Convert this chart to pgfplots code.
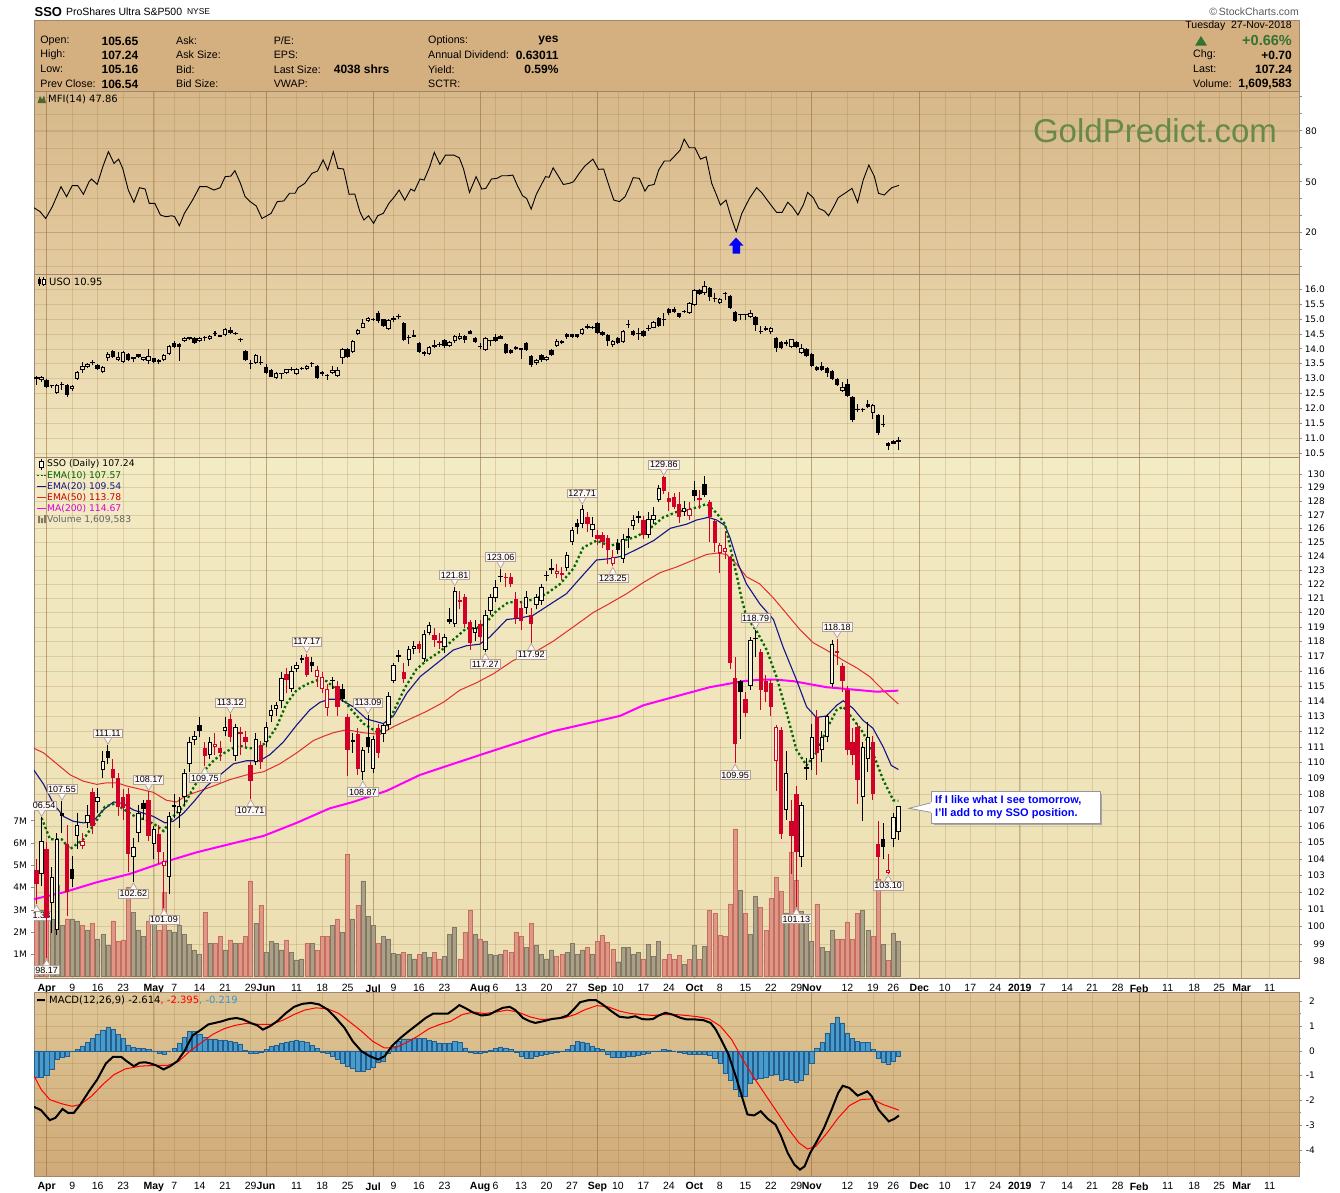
\documentclass[border=0pt]{standalone}
\usepackage{fontspec}
\setmainfont{Liberation Sans}
\newfontfamily\dv{DejaVu Sans}
\usepackage{pgfplots}
\pgfplotsset{compat=1.18}
\usepackage{pgfplotstable}

\definecolor{candred}{RGB}{208,0,40}
\definecolor{bord}{RGB}{160,135,115}
\definecolor{gridc}{RGB}{140,100,50}
\definecolor{hollowin}{RGB}{250,246,222}
\definecolor{hollowuso}{RGB}{236,222,180}
\definecolor{ema10}{RGB}{0,105,0}
\definecolor{ema20}{RGB}{20,20,140}
\definecolor{ema50}{RGB}{225,45,45}
\definecolor{ma200}{RGB}{255,0,255}
\definecolor{volred}{RGB}{222,150,135}
\definecolor{volredd}{RGB}{195,110,95}
\definecolor{volgry}{RGB}{170,160,136}
\definecolor{volgryd}{RGB}{130,120,100}
\definecolor{histf}{RGB}{74,155,205}
\definecolor{histd}{RGB}{35,95,140}
\definecolor{hdrbg}{RGB}{212,175,127}
\definecolor{gpgreen}{RGB}{104,138,72}
\definecolor{upgreen}{RGB}{50,115,50}
\definecolor{macdblue}{RGB}{60,150,210}
\definecolor{mfitop}{RGB}{214,184,138}
\definecolor{mfibot}{RGB}{227,202,158}
\definecolor{usotop}{RGB}{228,205,161}
\definecolor{usobot}{RGB}{241,231,192}
\definecolor{ssotop}{RGB}{243,235,196}
\definecolor{ssomid}{RGB}{250,248,218}
\definecolor{ssobot}{RGB}{236,222,178}
\definecolor{macdtop}{RGB}{223,198,150}
\definecolor{macdbot}{RGB}{207,170,120}
\definecolor{lineblue}{RGB}{105,115,135}
\definecolor{mfiicon}{RGB}{80,100,50}
\definecolor{lblbord}{RGB}{178,160,150}
\definecolor{lblfill}{RGB}{253,248,246}
\definecolor{annbord}{RGB}{150,150,150}
\definecolor{scgrey}{RGB}{90,90,90}
\definecolor{txgreen}{RGB}{0,100,0}
\definecolor{txred}{RGB}{200,0,0}
\definecolor{txmag}{RGB}{215,0,215}
\definecolor{txgrey}{RGB}{100,100,100}

% ---------------- SSO daily candles: index, open, high, low, close, red flag, volume (M)
\pgfplotstableread{
i o h l c r v
-2 103.3 104.0 101.33 102.5 1 2.9
-1 103.1 106.54 102.4 105.1 0 3.0
0 104.6 105.0 98.17 100.5 1 3.6
1 101.4 103.5 99.6 102.9 0 2.6
2 99.8 105.6 99.5 105.2 0 4.1
3 106.8 107.55 105.6 106.6 0 2.3
4 104.9 106.1 100.6 102.0 1 2.6
5 103.4 104.2 102.3 102.8 0 2.6
6 105.4 106.8 104.6 106.1 0 2.5
7 104.8 105.6 104.6 105.1 1 2.3
8 106.2 107.3 105.9 106.7 0 2.1
9 108.1 108.4 105.5 106.0 1 2.4
10 107.5 108.4 106.8 107.8 0 1.7
11 109.5 110.7 109.0 110.1 0 1.9
12 110.7 111.11 109.9 110.3 0 1.4
13 109.6 110.2 108.4 109.0 1 2.5
14 109.0 109.3 106.6 107.2 1 1.6
15 107.8 108.3 106.4 107.15 1 1.65
16 108.0 108.4 103.2 104.3 1 4.0
17 104.1 105.3 102.62 104.7 0 2.9
18 105.6 107.3 105.0 106.8 0 2.1
19 107.4 107.6 106.4 107.05 0 1.8
20 107.6 108.17 105.1 105.4 1 2.5
21 104.9 106.0 104.0 105.8 0 2.5
22 105.5 106.1 103.7 104.4 1 2.1
23 103.6 104.4 101.09 103.9 1 3.8
24 102.9 106.9 101.9 106.6 0 2.1
25 107.3 108.0 106.5 107.2 0 2.0
26 106.8 107.8 105.9 107.25 0 2.3
27 107.8 109.6 107.3 109.3 0 1.9
28 109.9 111.6 109.4 111.3 0 1.45
29 111.45 112.0 111.1 111.7 0 1.2
30 112.4 112.94 111.6 112.0 0 1.0
31 110.9 111.3 109.75 110.4 1 2.9
32 110.5 111.6 110.2 111.3 0 1.5
33 111.0 111.9 110.5 111.2 1 1.5
34 110.9 111.4 110.1 110.6 1 1.8
35 112.0 112.9 111.7 112.3 0 1.2
36 112.8 113.12 111.3 111.6 1 1.65
37 110.4 112.5 110.1 112.3 0 1.5
38 111.95 112.3 110.5 111.85 1 1.5
39 111.6 112.0 111.0 111.3 1 1.8
40 109.8 110.1 107.71 108.8 1 4.3
41 110.0 111.9 109.8 111.5 0 2.4
42 111.1 111.4 109.6 110.0 1 3.2
43 111.3 112.6 111.0 112.3 0 1.1
44 113.0 113.7 112.6 113.4 0 1.6
45 113.45 113.9 113.0 113.7 0 1.5
46 114.0 115.9 113.5 115.5 0 1.2
47 115.8 116.2 114.5 115.4 1 1.65
48 114.8 116.3 114.6 116.0 0 1.1
49 116.1 116.6 115.9 116.4 0 0.75
50 116.85 117.1 116.5 116.75 0 0.8
51 116.9 117.17 115.6 115.75 1 1.5
52 116.6 116.9 115.9 116.35 0 1.5
53 115.6 116.3 114.9 116.05 1 1.2
54 114.8 115.9 114.5 115.6 1 1.8
55 113.5 115.1 113.0 114.8 1 1.8
56 115.4 115.6 114.8 115.3 0 2.3
57 115.0 115.3 113.0 113.6 1 2.6
58 114.8 115.1 113.9 114.1 0 2.0
59 112.9 113.1 109.1 110.8 1 5.5
60 111.4 111.9 110.6 111.3 0 2.6
61 111.8 112.2 109.2 109.6 1 3.2
62 109.4 111.0 108.87 110.8 0 4.3
63 111.6 113.09 110.6 111.0 0 2.7
64 109.6 111.7 109.3 111.5 0 2.3
65 112.2 112.5 110.3 110.6 1 1.5
66 111.8 112.5 111.3 112.4 0 1.8
67 112.4 114.6 112.1 114.3 0 1.7
68 115.3 116.5 115.2 116.4 0 1.05
69 116.9 117.4 116.6 117.1 0 1.0
70 115.9 116.5 115.2 115.45 1 1.1
71 116.7 117.7 116.3 117.5 0 1.0
72 117.45 118.0 117.1 117.7 0 0.8
73 117.8 118.0 117.2 117.45 1 1.0
74 116.8 118.8 116.6 118.5 0 1.1
75 118.6 119.3 118.4 119.1 0 0.85
76 118.4 118.9 117.6 118.1 1 1.1
77 118.0 118.6 117.5 117.85 1 0.8
78 117.6 118.5 117.2 118.3 0 0.9
79 119.55 120.3 119.2 119.35 0 1.9
80 119.2 121.81 119.0 121.5 0 2.2
81 120.85 121.5 120.2 120.75 1 0.8
82 121.1 121.3 118.9 119.2 1 2.0
83 119.3 119.5 117.4 117.9 1 3.0
84 118.6 119.5 118.0 118.9 0 1.9
85 119.2 119.5 117.9 118.3 1 1.7
86 117.4 120.2 117.27 119.8 0 1.6
87 120.1 121.3 119.8 121.1 0 1.0
88 121.0 122.3 120.7 121.8 0 0.95
89 122.55 123.06 122.1 122.45 0 1.0
90 122.5 122.8 121.8 122.4 1 1.2
91 122.5 122.8 121.8 122.0 1 1.1
92 120.9 121.4 119.2 119.6 1 2.0
93 120.3 120.7 118.8 119.4 1 1.8
94 120.3 121.5 119.9 121.1 0 1.3
95 119.8 120.3 117.92 119.2 1 2.4
96 120.5 121.3 120.2 121.1 0 1.4
97 120.8 122.0 120.5 121.8 0 1.0
98 122.65 122.9 122.2 122.55 0 0.8
99 123.1 123.8 122.7 123.0 0 1.2
100 122.7 123.4 122.4 122.9 1 0.9
101 122.75 123.2 122.3 122.6 1 1.0
102 123.1 124.3 122.9 124.1 0 1.1
103 125.0 126.1 124.8 125.9 0 1.5
104 126.4 126.7 125.6 126.1 0 1.0
105 126.3 127.71 126.0 127.4 0 1.2
106 126.8 127.2 125.7 126.3 1 1.3
107 125.9 126.8 125.4 126.35 0 1.0
108 125.5 125.9 124.8 125.2 1 1.6
109 125.5 125.7 124.6 125.0 1 1.85
110 125.3 125.5 123.4 124.45 1 1.55
111 123.4 124.4 123.25 123.9 1 1.22
112 124.9 125.2 124.1 124.4 0 0.66
113 123.8 125.6 123.5 125.2 0 1.3
114 125.4 126.0 124.6 125.3 0 1.3
115 126.2 127.0 125.9 126.6 0 1.0
116 126.9 127.3 126.4 126.75 0 1.1
117 126.6 126.9 125.2 125.5 1 0.78
118 125.5 127.2 125.3 126.65 0 1.45
119 126.6 127.6 126.3 127.0 0 0.9
120 128.1 129.2 127.9 128.95 0 1.6
121 129.8 129.86 128.5 128.75 1 0.78
122 128.2 128.7 127.3 127.9 1 1.0
123 128.3 128.6 127.4 127.6 1 0.78
124 127.8 128.7 126.4 126.8 1 0.95
125 127.2 128.0 126.9 127.5 0 0.55
126 126.9 127.9 126.6 127.45 1 0.78
127 128.8 129.5 128.0 128.4 0 1.4
128 128.25 128.8 127.4 128.1 1 0.78
129 129.3 129.9 128.3 128.45 0 1.35
130 127.9 128.1 125.0 126.8 1 2.97
131 126.5 126.6 124.3 124.9 1 2.83
132 124.2 124.9 122.8 124.8 1 1.85
133 124.3 125.8 123.8 124.55 1 1.82
134 123.9 124.0 116.1 116.5 1 3.27
135 115.5 116.9 109.95 111.2 1 6.64
136 115.3 115.4 111.5 114.6 0 3.87
137 114.1 114.6 112.9 113.2 1 2.83
138 115.0 118.3 114.7 118.1 0 1.9
139 118.25 118.79 116.9 118.15 0 3.59
140 117.3 117.5 113.4 114.7 1 3.12
141 115.3 115.7 113.9 114.6 1 2.08
142 115.2 115.4 113.0 113.6 1 3.5
143 110.1 112.4 108.2 112.3 1 4.48
144 112.1 112.3 105.2 105.5 1 3.82
145 107.0 110.7 106.4 109.3 0 2.87
146 106.3 107.6 103.1 105.4 1 5.6
147 108.0 108.5 101.13 104.4 1 4.32
148 104.1 107.5 103.5 107.3 0 2.94
149 109.7 110.3 108.9 109.6 0 2.49
150 110.2 112.5 109.5 111.6 0 1.57
151 112.9 113.4 109.2 110.6 1 3.27
152 110.8 112.0 110.0 111.6 0 1.3
153 111.6 113.1 111.3 113.0 0 1.15
154 115.1 118.1 114.9 117.8 0 2.09
155 117.2 118.18 116.4 117.35 1 1.7
156 116.3 116.5 114.6 115.3 1 1.7
157 114.7 115.0 110.5 110.8 1 2.46
158 111.3 112.2 109.8 110.5 1 1.67
159 112.3 112.5 107.4 108.9 1 2.83
160 107.8 111.3 106.3 111.0 0 2.97
161 110.2 112.6 109.4 111.6 0 2.08
162 111.3 111.7 107.6 108.0 1 1.81
163 104.9 106.3 102.8 104.1 1 4.36
164 105.2 106.2 104.0 104.7 0 1.45
165 103.15 104.3 103.10 103.35 1 0.73
166 105.2 106.8 104.7 106.54 0 1.97
167 105.65 107.24 105.16 107.24 0 1.61
}\ssodata

% ---------------- USO daily candles
\pgfplotstableread{
i o h l c
-2 13.0 13.1 12.8 13.02
-1 12.95 13.1 12.9 13.06
0 12.95 12.98 12.68 12.71
1 12.76 12.8 12.7 12.74
2 12.51 12.82 12.48 12.79
3 12.8 12.9 12.62 12.78
4 12.79 12.82 12.4 12.45
5 12.64 12.78 12.6 12.75
6 12.98 13.26 12.95 13.23
7 13.29 13.56 13.2 13.42
8 13.38 13.52 13.35 13.49
9 13.54 13.62 13.45 13.52
10 13.45 13.48 13.3 13.34
11 13.23 13.43 13.2 13.4
12 13.68 13.88 13.6 13.84
13 13.92 13.97 13.7 13.73
14 13.62 13.9 13.58 13.71
15 13.57 13.93 13.53 13.9
16 13.82 13.85 13.58 13.62
17 13.69 13.74 13.55 13.67
18 13.81 13.84 13.7 13.73
19 13.62 13.74 13.6 13.71
20 13.6 13.98 13.5 13.76
21 13.68 13.7 13.52 13.57
22 13.55 13.67 13.5 13.64
23 13.62 13.82 13.58 13.78
24 13.82 14.12 13.8 14.09
25 14.18 14.25 14.03 14.07
26 14.16 14.2 13.6 14.05
27 14.26 14.38 14.23 14.35
28 14.36 14.4 14.3 14.34
29 14.35 14.38 14.17 14.2
30 14.27 14.38 14.24 14.35
31 14.38 14.42 14.25 14.36
32 14.32 14.47 14.3 14.44
33 14.52 14.6 14.44 14.5
34 14.43 14.47 14.38 14.41
35 14.46 14.68 14.43 14.65
36 14.63 14.72 14.5 14.54
37 14.52 14.56 14.45 14.5
38 14.3 14.35 14.22 14.28
39 13.92 13.95 13.6 13.64
40 13.52 13.64 13.32 13.5
41 13.53 13.82 13.5 13.79
42 13.54 13.75 13.45 13.52
43 13.38 13.5 13.17 13.2
44 13.29 13.32 13.04 13.07
45 13.01 13.21 12.98 13.18
46 13.16 13.2 12.98 13.14
47 13.18 13.34 13.15 13.31
48 13.3 13.38 13.25 13.28
49 13.14 13.37 13.11 13.34
50 13.35 13.38 13.3 13.33
51 13.31 13.45 13.28 13.42
52 13.5 13.55 13.4 13.48
53 13.42 13.45 12.98 13.01
54 13.14 13.26 13.1 13.23
55 13.1 13.15 12.95 13.08
56 13.2 13.42 13.17 13.29
57 13.1 13.4 13.07 13.29
58 13.68 14.01 13.5 13.98
59 13.98 14.02 13.7 13.73
60 13.88 14.3 13.85 14.27
61 14.49 14.66 14.45 14.63
62 14.71 15.0 14.68 14.85
63 14.93 15.07 14.9 15.04
64 14.99 15.03 14.93 14.97
65 15.18 15.26 14.85 14.94
66 14.98 15.01 14.73 14.76
67 14.65 14.99 14.62 14.96
68 14.96 15.1 14.9 15.02
69 15.08 15.15 14.98 15.06
70 14.85 14.88 14.26 14.29
71 14.39 14.45 14.15 14.37
72 14.43 14.62 14.38 14.41
73 14.18 14.21 13.87 13.9
74 13.82 13.93 13.75 13.9
75 13.82 14.1 13.78 14.07
76 14.05 14.3 14.02 14.12
77 14.13 14.22 14.06 14.11
78 14.29 14.32 14.04 14.09
79 14.09 14.26 14.06 14.23
80 14.27 14.45 14.2 14.42
81 14.32 14.52 14.3 14.44
82 14.42 14.45 14.2 14.29
83 14.6 14.63 14.48 14.51
84 14.37 14.4 14.2 14.23
85 14.08 14.18 13.98 14.06
86 13.96 14.38 13.93 14.35
87 14.28 14.3 14.1 14.26
88 14.38 14.5 14.24 14.27
89 14.42 14.45 14.31 14.34
90 14.16 14.19 13.82 13.87
91 13.96 13.99 13.82 13.85
92 13.98 14.08 13.95 14.05
93 13.99 14.02 13.65 13.97
94 14.18 14.22 13.93 13.96
95 13.76 13.79 13.4 13.46
96 13.54 13.65 13.46 13.62
97 13.79 13.82 13.55 13.64
98 13.62 13.76 13.58 13.73
99 13.96 13.99 13.76 13.79
100 14.09 14.34 14.06 14.26
101 14.18 14.3 14.15 14.27
102 14.49 14.53 14.33 14.4
103 14.48 14.51 14.37 14.4
104 14.48 14.51 14.35 14.4
105 14.51 14.68 14.45 14.65
106 14.68 14.82 14.65 14.76
107 14.74 14.77 14.65 14.68
108 14.85 14.88 14.51 14.54
109 14.57 14.6 14.43 14.46
110 14.46 14.49 14.1 14.27
111 14.12 14.3 14.05 14.27
112 14.35 14.38 14.15 14.18
113 14.23 14.62 14.2 14.59
114 14.8 14.96 14.7 14.78
115 14.59 14.62 14.43 14.46
116 14.5 14.7 14.3 14.48
117 14.6 14.63 14.41 14.44
118 14.69 14.78 14.6 14.67
119 14.71 14.93 14.68 14.9
120 15.02 15.05 14.73 14.76
121 14.97 15.2 14.75 14.95
122 15.32 15.35 15.12 15.18
123 15.32 15.4 15.2 15.24
124 15.18 15.21 15.04 15.07
125 15.25 15.28 15.2 15.23
126 15.2 15.55 15.17 15.52
127 15.46 15.99 15.43 15.96
128 15.96 15.99 15.8 15.83
129 15.85 16.25 15.8 16.1
130 16.02 16.05 15.6 15.72
131 15.69 15.85 15.55 15.67
132 15.54 15.71 15.5 15.68
133 15.84 15.9 15.62 15.82
134 15.76 15.79 15.32 15.35
135 15.24 15.27 14.9 14.94
136 15.14 15.16 14.95 15.12
137 15.14 15.16 14.95 15.12
138 15.07 15.28 15.04 15.2
139 15.05 15.08 14.6 14.79
140 14.58 14.75 14.5 14.56
141 14.63 14.75 14.6 14.71
142 14.57 14.74 14.5 14.71
143 14.37 14.4 13.9 14.01
144 14.23 14.26 13.98 14.01
145 14.19 14.3 14.1 14.17
146 14.07 14.34 14.04 14.31
147 14.23 14.26 14.02 14.05
148 13.87 14.15 13.84 14.01
149 13.98 14.01 13.73 13.76
150 13.84 13.87 13.39 13.42
151 13.4 13.43 13.26 13.29
152 13.43 13.55 13.26 13.29
153 13.37 13.4 13.05 13.18
154 13.27 13.3 12.95 12.98
155 12.98 13.01 12.76 12.79
156 12.6 12.88 12.57 12.71
157 12.82 13.0 12.39 12.42
158 12.4 12.43 11.55 11.62
159 11.96 12.15 11.9 11.94
160 11.98 12.03 11.9 11.96
161 12.15 12.3 12.01 12.04
162 11.84 12.15 11.65 12.12
163 11.78 11.82 11.1 11.19
164 11.46 11.78 11.4 11.44
165 10.86 10.89 10.6 10.75
166 10.91 10.96 10.8 10.83
167 10.88 11.05 10.6 10.95
}\usodata

\pgfplotstableread{
i v
-1 106.5
0.65 105.2
2.9 105.2
4.6 104.6
7.2 105.2
9.5 106.2
11.4 107.2
13.4 107.4
15.3 107.0
17.3 106.6
19.3 106.4
21.2 106.1
22.9 105.7
24.8 106.6
26.8 107.2
28.8 108.4
30.7 109.4
33.0 110.2
35.3 110.7
37.6 111.1
39.5 110.9
41.5 110.9
43.1 111.3
45.1 112.3
47.0 113.8
49.0 114.7
51.0 115.1
53.3 115.4
54.9 115.3
56.9 114.7
59.5 113.5
62.1 112.5
65.0 111.9
66.7 112.3
68.3 113.5
70.3 114.9
72.5 116.1
74.5 116.7
77.1 117.3
79.7 118.1
82.3 118.9
84.3 118.9
86.2 119.3
88.2 120.1
90.5 120.7
92.8 120.7
95.4 120.9
98.0 121.3
100.7 122.0
103.3 123.1
105.2 124.6
107.8 125.1
110.5 124.7
113.1 125.1
115.7 125.4
118.3 126.0
120.9 126.8
123.5 127.2
126.1 127.4
128.1 127.6
129.4 127.8
131.4 127.1
133.0 126.3
134.3 124.2
135.3 122.6
136.3 120.9
137.2 119.7
139.2 118.7
141.2 117.4
143.1 115.6
145.1 113.2
147.0 110.8
149.0 109.8
150.9 110.6
152.9 112.1
154.9 113.4
156.2 113.6
158.1 112.8
160.1 111.9
162.0 110.6
164.0 108.9
166.0 107.6
167 107.57
}\ematen

\pgfplotstableread{
i v
-2.5 109.5
-0.6 108.6
1.3 107.4
3.3 106.6
5.2 106.3
7.2 106.2
9.1 106.3
11.1 107.0
13.1 107.5
15.0 107.4
17.0 107.0
19.0 106.8
20.9 106.6
23.2 106.2
24.8 106.3
26.8 106.8
28.8 107.5
31.4 108.5
34.0 109.2
36.6 109.9
39.2 110.1
41.8 110.1
43.8 110.5
46.4 111.3
49.0 112.4
51.6 113.4
53.6 113.9
55.5 114.1
57.5 114.1
60.1 113.6
62.7 112.8
66.0 112.5
68.0 113.0
70.6 114.5
73.2 115.6
76.5 116.5
79.7 117.4
82.3 117.7
84.9 117.8
86.9 118.3
90.2 119.5
92.8 119.6
95.4 119.8
99.3 120.7
101.9 121.3
104.6 122.4
107.8 123.7
110.5 123.8
113.1 124.0
116.4 124.6
119.0 125.1
122.3 126.0
125.5 126.3
127.4 126.6
129.7 126.8
131.4 126.6
133.0 126.2
134.0 125.3
135.6 123.4
137.2 122.0
139.8 120.6
142.5 119.5
144.4 117.6
147.0 115.4
149.0 113.6
150.9 112.9
152.9 113.0
154.9 113.7
156.2 114.0
158.1 113.5
160.1 112.7
162.0 112.2
164.0 111.0
165.6 109.8
167 109.54
}\ematwenty

\pgfplotstableread{
i v
-2.5 110.9
-0.6 110.6
2.0 109.9
4.6 109.2
7.2 108.8
9.8 108.6
11.8 108.7
13.7 108.7
15.7 108.5
18.3 108.3
20.9 108.1
23.5 107.6
25.5 107.5
27.4 107.9
30.1 108.2
32.7 108.5
35.9 108.9
39.2 109.2
42.5 109.4
45.7 109.9
49.0 110.6
52.3 111.4
54.5 111.7
56.2 111.9
58.8 112.1
62.1 111.9
65.4 111.8
68.0 112.3
70.6 112.7
74.5 113.3
77.8 113.9
81.0 114.7
84.3 115.2
87.6 115.8
91.5 116.7
95.4 117.2
99.3 118.0
103.3 119.0
107.2 120.0
109.8 120.5
113.7 121.3
117.0 122.1
120.3 122.8
123.5 123.2
126.8 123.7
129.4 124.1
131.4 124.2
133.3 124.1
135.3 123.4
137.2 122.5
139.8 122.0
142.5 121.0
145.1 119.9
147.7 118.8
150.3 117.9
152.9 117.4
156.2 116.7
158.8 116.2
161.4 115.6
164.0 114.7
167 113.78
}\emafifty

\pgfplotstableread{
i v
-2.5 101.6
3.3 102.0
9.8 102.6
16.3 103.1
22.9 103.8
29.4 104.4
35.9 104.9
42.5 105.4
49.0 106.2
55.5 107.1
60.1 107.5
66.7 108.2
73.2 109.2
79.7 109.9
86.2 110.6
92.8 111.3
99.3 112.0
105.9 112.5
112.4 113.0
117.0 113.7
123.5 114.3
130.0 114.9
133.3 115.1
136.6 115.3
139.8 115.4
143.1 115.4
146.4 115.3
149.6 115.1
152.9 114.9
156.2 114.8
159.4 114.7
162.7 114.6
167 114.67
}\matwohundred

\pgfplotstableread{
i m
-2.5 34.7
-1.3 32.4
-0.2 28.4
1.1 35.3
2.8 47.1
3.9 41.2
5.0 47.7
6.1 47.7
7.2 42.6
8.3 50.0
8.8 51.6
9.9 48.4
11.0 58.8
12.1 67.7
13.2 60.8
14.1 63.3
14.9 57.9
16.0 45.1
17.1 37.9
18.2 46.5
19.3 45.7
20.1 37.3
21.2 37.3
22.3 30.4
23.4 29.4
24.5 30.0
25.1 29.4
26.0 24.1
27.0 31.4
28.6 39.2
30.0 47.1
31.4 47.1
32.8 45.1
34.0 46.5
35.0 53.0
36.1 53.3
36.9 56.5
38.0 49.0
38.9 41.2
39.9 38.3
41.1 35.7
42.2 28.4
43.2 30.0
44.0 31.4
45.2 38.3
46.5 38.7
47.6 43.2
48.7 43.2
49.3 46.5
50.6 49.0
52.0 54.9
53.1 56.3
54.2 62.8
55.1 56.9
56.2 67.7
57.1 57.9
58.2 57.5
59.3 42.6
60.4 42.8
61.4 32.4
62.2 27.5
63.1 30.0
64.1 25.5
64.9 30.0
66.0 31.4
67.1 37.3
68.2 41.2
69.1 45.1
70.2 39.2
71.4 45.7
72.1 44.5
73.2 51.6
74.0 51.0
75.1 58.8
76.0 67.3
77.1 60.2
78.2 65.7
79.8 65.7
80.9 64.1
81.7 57.9
82.9 43.7
84.2 53.0
85.3 45.7
86.1 46.1
87.2 51.6
88.3 52.0
89.2 53.5
90.3 53.5
91.4 53.9
92.3 47.7
93.3 41.8
94.1 40.2
95.0 33.9
96.0 42.6
96.9 47.7
97.8 53.0
98.5 52.6
99.3 58.2
100.2 53.9
101.3 48.4
102.4 49.0
103.3 50.0
104.4 54.9
105.5 59.2
107.1 63.3
108.2 57.3
109.2 57.5
110.1 49.0
111.2 39.2
112.3 38.3
113.4 41.2
114.3 47.1
115.0 52.4
116.2 52.0
117.3 44.5
118.0 47.7
119.1 48.4
120.0 56.9
121.1 62.2
122.2 62.2
123.3 65.7
124.2 68.6
125.0 75.1
126.0 70.0
127.1 70.0
128.2 63.3
129.3 64.7
130.4 49.0
131.2 43.2
132.1 36.3
133.2 39.2
134.1 30.0
135.2 20.6
136.3 31.4
137.8 40.2
139.2 46.5
140.3 43.2
141.4 38.7
143.1 32.0
144.2 32.0
145.3 37.9
146.2 35.3
147.3 30.4
148.4 36.7
149.2 43.7
150.3 40.6
151.4 34.3
152.5 32.8
153.3 30.0
154.2 34.7
155.2 40.6
156.5 43.2
157.9 46.1
159.0 37.9
160.1 51.0
161.2 59.8
162.3 53.0
163.1 43.2
164.2 42.2
165.7 46.5
167.1 47.86
}\mfidata

\pgfplotstableread{
i m
-2.5 -2.26
-1.1 -2.40
0.6 -2.80
1.7 -2.71
3.1 -2.35
4.2 -2.51
5.3 -2.51
6.6 -2.17
8.3 -1.63
9.9 -1.16
11.6 -0.51
13.0 -0.24
14.6 -0.24
15.7 -0.42
17.1 -0.62
18.2 -0.48
19.3 -0.46
20.4 -0.51
21.5 -0.59
22.9 -0.75
24.2 -0.62
25.6 -0.42
27.0 -0.01
28.6 0.62
30.3 0.86
31.7 1.07
33.0 1.13
34.4 1.20
35.8 1.29
37.2 1.33
38.5 1.27
40.0 1.13
41.3 1.03
42.4 0.86
43.8 1.00
45.2 1.20
46.8 1.51
48.5 1.78
50.1 1.90
51.8 1.94
53.4 1.88
55.1 1.67
56.7 1.33
58.4 0.93
60.0 0.39
61.7 -0.01
63.3 -0.21
65.0 -0.35
66.3 -0.21
67.7 0.20
69.4 0.53
71.0 0.80
72.7 1.07
74.3 1.33
75.8 1.51
77.1 1.51
78.7 1.51
79.8 1.67
80.9 1.85
82.0 1.74
83.7 1.54
85.3 1.43
86.8 1.47
88.1 1.61
89.4 1.74
90.8 1.78
91.9 1.65
93.4 1.33
94.7 1.20
95.8 1.13
97.4 1.20
99.1 1.29
100.7 1.33
102.1 1.43
103.3 1.67
104.6 1.97
106.2 2.05
107.7 2.05
109.0 1.88
110.7 1.61
112.3 1.38
114.0 1.34
115.4 1.40
116.7 1.29
117.8 1.27
118.9 1.29
120.0 1.43
121.3 1.54
122.7 1.47
124.2 1.34
125.5 1.27
127.2 1.27
128.8 1.24
130.2 1.13
131.2 0.86
132.3 0.43
133.7 -0.15
135.2 -1.09
136.5 -1.97
137.4 -2.57
138.7 -2.61
140.0 -2.44
141.4 -2.75
142.9 -2.98
144.0 -3.45
145.3 -4.13
146.6 -4.60
147.7 -4.80
148.6 -4.67
149.7 -4.13
151.0 -3.66
152.4 -3.12
153.9 -2.38
155.2 -1.70
156.1 -1.41
157.4 -1.50
159.0 -1.81
160.9 -1.64
161.8 -1.84
163.1 -2.38
165.1 -2.85
166.2 -2.75
167.1 -2.614
}\macddata

\pgfplotstableread{
i s
-2.5 -1.00
-1.1 -1.56
0.6 -1.97
2.8 -2.13
5.0 -2.24
6.6 -2.17
8.8 -1.83
11.0 -1.36
13.2 -0.96
15.4 -0.73
18.2 -0.62
20.9 -0.59
23.7 -0.59
25.9 -0.42
28.1 -0.01
30.3 0.33
32.5 0.66
34.7 0.89
36.9 1.03
39.1 1.11
41.9 1.07
44.0 1.07
46.3 1.24
48.5 1.47
50.6 1.65
52.8 1.74
55.1 1.70
57.3 1.51
59.5 1.16
61.7 0.80
63.9 0.39
66.2 0.12
68.3 0.12
70.5 0.33
72.7 0.59
74.9 0.89
77.1 1.07
79.2 1.20
81.5 1.47
83.7 1.57
85.8 1.51
88.1 1.57
90.3 1.65
92.4 1.57
94.7 1.38
96.9 1.27
99.1 1.29
101.4 1.33
103.6 1.47
105.6 1.67
107.9 1.83
110.1 1.78
112.3 1.61
114.5 1.51
116.7 1.47
118.9 1.43
121.1 1.47
123.3 1.47
125.5 1.43
127.7 1.38
129.9 1.29
132.1 1.00
134.3 0.46
136.5 -0.35
138.7 -1.09
140.9 -1.77
143.1 -2.44
145.3 -3.12
147.5 -3.72
149.2 -3.97
150.8 -3.86
153.0 -3.32
155.2 -2.71
157.4 -2.21
159.6 -1.97
161.8 -1.94
164.0 -2.17
167.1 -2.395
}\signaldata

\pgfplotstableread{
i h
-2 -1.05
-1 -1.05
0 -0.98
1 -0.75
2 -0.35
3 -0.27
4 -0.2
5 -0.02
6 0.06
7 0.2
8 0.35
9 0.5
10 0.68
11 0.85
12 0.94
13 0.86
14 0.67
15 0.5
16 0.24
17 0.14
18 0.12
19 0.1
20 0.05
21 -0.02
22 -0.1
23 -0.13
24 0.0
25 0.1
26 0.32
27 0.55
28 0.78
29 0.78
30 0.68
31 0.55
32 0.48
33 0.46
34 0.43
35 0.43
36 0.4
37 0.36
38 0.28
39 0.03
40 -0.08
41 -0.1
42 -0.07
43 0.05
44 0.18
45 0.22
46 0.3
47 0.36
48 0.4
49 0.42
50 0.4
51 0.33
52 0.22
53 0.1
54 -0.05
55 -0.1
56 -0.2
57 -0.33
58 -0.48
59 -0.62
60 -0.72
61 -0.84
62 -0.83
63 -0.76
64 -0.66
65 -0.45
66 -0.4
67 -0.08
68 0.2
69 0.38
70 0.46
71 0.49
72 0.52
73 0.53
74 0.5
75 0.45
76 0.37
77 0.32
78 0.3
79 0.32
80 0.38
81 0.33
82 0.12
83 -0.05
84 -0.1
85 -0.09
86 -0.05
87 0.03
88 0.11
89 0.16
90 0.12
91 0.06
92 -0.05
93 -0.2
94 -0.3
95 -0.29
96 -0.23
97 -0.17
98 -0.15
99 -0.08
100 -0.05
101 -0.02
102 0.06
103 0.22
104 0.38
105 0.36
106 0.32
107 0.2
108 0.1
109 0.05
110 -0.14
111 -0.26
112 -0.27
113 -0.27
114 -0.23
115 -0.2
116 -0.16
117 -0.12
118 -0.08
119 -0.03
120 -0.01
121 0.07
122 0.04
123 0.0
124 -0.07
125 -0.1
126 -0.14
127 -0.15
128 -0.12
129 -0.15
130 -0.18
131 -0.28
132 -0.5
133 -0.9
134 -1.2
135 -1.55
136 -1.85
137 -1.85
138 -1.3
139 -1.15
140 -1.1
141 -1.05
142 -1.0
143 -0.95
144 -1.2
145 -1.15
146 -1.2
147 -1.25
148 -1.2
149 -0.95
150 -0.5
151 0.12
152 0.35
153 0.73
154 1.1
155 1.38
156 1.13
157 0.73
158 0.5
159 0.39
160 0.35
161 0.35
162 0.05
163 -0.28
164 -0.46
165 -0.55
166 -0.4
167 -0.22
}\histdata

% candle marks: lengths in pt are supplied per point through "visualization depends on"
\pgfdeclareplotmark{wick}{%
  \pgfpathmoveto{\pgfqpoint{0pt}{0pt}}%
  \pgfpathlineto{\pgfpoint{0pt}{\wl pt}}%
  \pgfusepath{stroke}}
\pgfdeclareplotmark{bodyfill}{%
  \pgfpathrectangle{\pgfpoint{-2.2pt}{0pt}}{\pgfpoint{4.4pt}{\bh pt}}%
  \pgfusepath{fill}}
\pgfdeclareplotmark{bodyhollow}{%
  \pgfpathrectangle{\pgfpoint{-1.7pt}{0.5pt}}{\pgfpoint{3.4pt}{\bh pt - 1pt}}%
  \pgfusepath{stroke,fill}}

% #1 table, #2 colour, #3 selection (1/0), #4 wick length (pt), #5 body height (pt), #6 hollow fill
\newcommand{\candles}[6]{%
\addplot[only marks, mark=wick, mark options={draw=#2, line width=1pt, solid}, forget plot,
  restrict expr to domain={#3}{0.5:1.5},
  visualization depends on={#4 \as \wl}] table[x=i, y=l]{#1};
\addplot[only marks, mark=bodyfill, mark options={fill=#2, draw=none}, forget plot,
  restrict expr to domain={(#3)*(1-(\thisrow{c}>\thisrow{o}))}{0.5:1.5},
  visualization depends on={#5 \as \bh}] table[x=i, y expr={min(\thisrow{o},\thisrow{c})}]{#1};
\addplot[only marks, mark=bodyhollow, mark options={draw=#2, fill=#6, line width=1pt, solid}, forget plot,
  restrict expr to domain={(#3)*(\thisrow{c}>\thisrow{o})}{0.5:1.5},
  visualization depends on={#5 \as \bh}] table[x=i, y expr={min(\thisrow{o},\thisrow{c})}]{#1};
}

\tikzset{
  plabel/.style={draw=lblbord, fill=lblfill, line width=0.7pt, inner sep=1.3pt, font=\fontsize{9}{9}\selectfont, text=black},
  pptr/.style={draw=lblbord, fill=lblfill, line width=0.7pt}
}
\newcommand{\plhi}[2]{\node[plabel, anchor=south, yshift=7pt] (pl) at (axis cs:#1,#2) {#2}; \filldraw[pptr] ([xshift=-3.5pt]pl.south) -- ([yshift=-6pt]pl.south) -- ([xshift=3.5pt]pl.south);}
\newcommand{\pllo}[2]{\node[plabel, anchor=north, yshift=-7pt] (pl) at (axis cs:#1,#2) {#2}; \filldraw[pptr] ([xshift=-3.5pt]pl.north) -- ([yshift=6pt]pl.north) -- ([xshift=3.5pt]pl.north);}

\pgfplotsset{
  panel/.style={
    scale only axis, width=1265pt, xmin=-2.49, xmax=245.55,
    axis line style={draw=bord, line width=0.8pt},
    tick align=outside, major tick length=3pt,
    xtick={0,5,10,15,21,25,30,35,40,43,49,54,59,64,68,73,78,85,88,93,98,103,108,112,117,122,127,132,137,142,147,150,157,162,166,171.1,176.1,181.1,186,190.8,195.3,200.1,205,210,214.2,219.8,225,229.9,234.3,239.8},
    xticklabels={},
    xtick style={draw=none},
    extra x ticks={0,21,43,64,85,108,127,150,171.1,190.8,214.2,234.3},
    extra x tick labels={},
    extra x tick style={grid=major, major grid style={draw=gridc, draw opacity=0.4, line width=0.7pt}},
    xmajorgrids, ymajorgrids,
    major grid style={draw=gridc, draw opacity=0.2, line width=0.5pt},
    ytick pos=right, yticklabel pos=right,
    ytick style={draw=bord, line width=0.6pt},
    yticklabel style={font=\dv\fontsize{9}{9}\selectfont, anchor=east, inner sep=0pt, text=black},
  },
  datelabels/.style={
    xticklabels={\textbf{Apr},9,16,23,\textbf{May},7,14,21,29,\textbf{Jun},11,18,25,\textbf{Jul},9,16,23,\textbf{Aug},6,13,20,27,\textbf{Sep},10,17,24,\textbf{Oct},8,15,22,29,\textbf{Nov},12,19,26,\textbf{Dec},10,17,24,\textbf{2019},7,14,21,28,\textbf{Feb},11,18,25,\textbf{Mar},11},
    xticklabel style={font=\fontsize{10.5}{11}\selectfont, text=black},
  },
  overlay/.style={scale only axis, width=1265pt, xmin=-2.49, xmax=245.55},
  lnscale/.style={y coord trafo/.code={\pgfmathparse{ln(##1)}}, y coord inv trafo/.code={\pgfmathparse{exp(##1)}}},
}

\begin{document}
\begin{tikzpicture}[x=1pt,y=1pt]
\fill[white] (0,0) rectangle (1340,-1192);

% ---------- header
\filldraw[fill=hdrbg, draw=bord, line width=0.8pt] (34,-20) rectangle (1299,-91);
\node[anchor=west, inner sep=0pt, font=\bfseries\fontsize{13}{13}\selectfont] at (34.4,-12) {SSO};
\node[anchor=west, inner sep=0pt, font=\fontsize{10.5}{11}\selectfont] at (65.8,-12) {ProShares Ultra S\&P500};
\node[anchor=west, inner sep=0pt, font=\fontsize{8.5}{9}\selectfont] at (186.8,-12) {NYSE};
\node[anchor=east, inner sep=0pt, font=\fontsize{10.5}{11}\selectfont, text=scgrey] at (1299,-12) {\textcopyright\,StockCharts.com};
\begin{scope}[every node/.style={anchor=west, inner sep=0pt, font=\fontsize{10.7}{11}\selectfont}]
\node at (40.2,-41) {Open:};
\node at (40.2,-55) {High:};
\node at (40.2,-69.3) {Low:};
\node at (40.2,-84) {Prev Close:};
\node at (176,-41) {Ask:};
\node at (176,-55) {Ask Size:};
\node at (176,-69.3) {Bid:};
\node at (176,-84) {Bid Size:};
\node at (273.6,-41) {P/E:};
\node at (273.6,-55) {EPS:};
\node at (273.6,-69.3) {Last Size:};
\node at (273.6,-84) {VWAP:};
\node at (428,-41) {Options:};
\node at (428,-55) {Annual Dividend:};
\node at (428,-69.3) {Yield:};
\node at (428,-84) {SCTR:};
\node at (1193,-55) {Chg:};
\node at (1193,-69.3) {Last:};
\node at (1193,-84) {Volume:};
\end{scope}
\begin{scope}[every node/.style={anchor=west, inner sep=0pt, font=\bfseries\fontsize{12}{12}\selectfont}]
\node at (101.4,-41) {105.65};
\node at (101.4,-55) {107.24};
\node at (101.4,-69.3) {105.16};
\node at (101.4,-84) {106.54};
\node at (333.7,-69.3) {4038 shrs};
\end{scope}
\begin{scope}[every node/.style={anchor=east, inner sep=0pt, font=\bfseries\fontsize{12}{12}\selectfont}]
\node at (558.7,-41) {yes};
\node at (558.7,-55) {0.63011};
\node at (558.7,-69.3) {0.59\%};
\node at (1292,-55) {+0.70};
\node at (1292,-69.3) {107.24};
\node at (1292,-84) {1,609,583};
\end{scope}
\node[anchor=east, inner sep=0pt, font=\fontsize{10.5}{11}\selectfont] at (1292,-26) {Tuesday\ \ 27-Nov-2018};
\node[anchor=east, inner sep=0pt, font=\bfseries\fontsize{14.5}{15}\selectfont, text=upgreen] at (1292,-41) {+0.66\%};
\fill[upgreen] (1195,-45.7) -- (1207,-45.7) -- (1201,-36) -- cycle;

% ---------- backgrounds
\shade[top color=mfitop, bottom color=mfibot] (34,-91) rectangle (1299,-274);
\shade[top color=usotop, bottom color=usobot] (34,-274) rectangle (1299,-457);
\shade[top color=ssotop, middle color=ssomid, bottom color=ssobot] (34,-457) rectangle (1299,-978);
\shade[top color=macdtop, bottom color=macdbot] (34,-992) rectangle (1299,-1176);

% ---------- MFI panel
\begin{axis}[panel, at={(34pt,-91pt)}, anchor=north west, height=183pt,
  ymin=-4.3, ymax=103.4,
  ytick={0,10,20,30,40,50,60,70,80,90,100}, yticklabels={,,20,,,50,,,80,,},
  yticklabel style={xshift=15pt},
  extra y ticks={20,80}, extra y tick labels={},
  extra y tick style={grid=major, major grid style={draw=lineblue, line width=1.2pt}},
]
\addplot[black, line width=0.9pt] table[x=i, y=m]{\mfidata};
\end{axis}
\node[font=\fontsize{33}{33}\selectfont, text=gpgreen, inner sep=0pt] at (1155,-131) {GoldPredict.com};
\fill[fill=mfiicon] (37.5,-103) -- (40,-96) -- (42,-99.5) -- (44,-95.5) -- (46,-103) -- cycle;
\node[anchor=west, inner sep=0pt, font=\dv\fontsize{10}{10}\selectfont] at (48,-99.5) {MFI(14) 47.86};
\fill[blue] (736,-237.5) -- (743.5,-245.7) -- (740,-245.7) -- (740,-253.5) -- (732.5,-253.5) -- (732.5,-245.7) -- (728.7,-245.7) -- cycle;

% ---------- USO panel
\begin{axis}[panel, at={(34pt,-274pt)}, anchor=north west, height=183pt,
  ymin=10.38, ymax=16.5,
  ytick={10.5,11,11.5,12,12.5,13,13.5,14,14.5,15,15.5,16}, yticklabels={10.5,11.0,11.5,12.0,12.5,13.0,13.5,14.0,14.5,15.0,15.5,16.0},
  yticklabel style={xshift=23pt},
]
\candles{\usodata}{black}{1}{29.902*(\thisrow{h}-\thisrow{l})}{max(29.902*abs(\thisrow{c}-\thisrow{o}),1.2)}{hollowuso}
\end{axis}
\draw[black, line width=0.8pt] (39.5,-277) -- (39.5,-286);
\fill[black] (38,-279) rectangle (41,-284);
\draw[black, line width=0.8pt] (43.5,-277) -- (43.5,-286);
\draw[black, line width=0.7pt, fill=white] (42,-279) rectangle (45,-284);
\node[anchor=west, inner sep=0pt, font=\dv\fontsize{10}{10}\selectfont] at (49,-281.5) {USO 10.95};

% ---------- SSO panel: grid + ticks (log scale through a ln coordinate transformation)
\begin{axis}[panel, datelabels, lnscale, at={(34pt,-457pt)}, anchor=north west, height=521pt,
  ymin=97.06, ymax=131.32,
  ytick={98,99,100,101,102,103,104,105,106,107,108,109,110,111,112,113,114,115,116,117,118,119,120,121,122,123,124,125,126,127,128,129,130},
  yticklabels={98,99,100,101,102,103,104,105,106,107,108,109,110,111,112,113,114,115,116,117,118,119,120,121,122,123,124,125,126,127,128,129,130},
  yticklabel style={xshift=23pt},
]
\addplot[draw=none, forget plot] coordinates {(0,100) (1,101)};
\end{axis}
% volume
\begin{axis}[overlay, at={(34pt,-457pt)}, anchor=north west, height=521pt,
  ymin=-0.06, ymax=23.33, axis line style={draw=none}, xtick=\empty,
  ytick={1,2,3,4,5,6,7}, yticklabels={1M,2M,3M,4M,5M,6M,7M},
  ytick pos=left, yticklabel pos=left, tick align=outside, major tick length=3pt,
  ytick style={draw=bord, line width=0.6pt},
  yticklabel style={font=\dv\fontsize{9}{9}\selectfont, inner sep=1pt, xshift=-3pt, text=black},
]
\addplot[ybar, bar width=4pt, bar shift=0pt, fill=volgry, draw=volgryd, line width=0.5pt,
  restrict expr to domain={\thisrow{r}}{-0.5:0.5}] table[x=i, y=v]{\ssodata};
\addplot[ybar, bar width=4pt, bar shift=0pt, fill=volred, draw=volredd, line width=0.5pt,
  restrict expr to domain={\thisrow{r}}{0.5:1.5}] table[x=i, y=v]{\ssodata};
\end{axis}
% price
\begin{axis}[overlay, lnscale, at={(34pt,-457pt)}, anchor=north west, height=521pt,
  ymin=97.06, ymax=131.32, hide axis]
\addplot[ma200, line width=2pt] table[x=i, y=v]{\matwohundred};
\addplot[ema50, line width=1pt] table[x=i, y=v]{\emafifty};
\addplot[ema20, line width=1.1pt] table[x=i, y=v]{\ematwenty};
\addplot[ema10, line width=2.3pt, dash pattern=on 2.3pt off 2.5pt] table[x=i, y=v]{\ematen};
\candles{\ssodata}{black}{1-\thisrow{r}}{1723.41*ln(\thisrow{h}/\thisrow{l})}{max(1723.41*abs(ln(\thisrow{c}/\thisrow{o})),1.2)}{hollowin}
\candles{\ssodata}{candred}{\thisrow{r}}{1723.41*ln(\thisrow{h}/\thisrow{l})}{max(1723.41*abs(ln(\thisrow{c}/\thisrow{o})),1.2)}{hollowin}
\pllo{-2}{101.33}
\plhi{-1}{106.54}
\pllo{0}{98.17}
\plhi{3}{107.55}
\plhi{12}{111.11}
\plhi{20}{108.17}
\pllo{17}{102.62}
\pllo{23}{101.09}
\pllo{31}{109.75}
\plhi{36}{113.12}
\pllo{40}{107.71}
\plhi{51}{117.17}
\plhi{63}{113.09}
\pllo{62}{108.87}
\plhi{80}{121.81}
\pllo{86}{117.27}
\plhi{89}{123.06}
\pllo{95}{117.92}
\plhi{105}{127.71}
\pllo{111}{123.25}
\plhi{121}{129.86}
\plhi{139}{118.79}
\pllo{135}{109.95}
\plhi{155}{118.18}
\pllo{147}{101.13}
\pllo{165}{103.10}
\end{axis}
% SSO legend
\draw[black, line width=0.8pt] (41.5,-458.5) -- (41.5,-469.5);
\draw[black, line width=0.7pt, fill=white] (39.5,-461) rectangle (43.5,-467);
\node[anchor=west, inner sep=0pt, font=\dv\fontsize{9.2}{9}\selectfont] at (47,-464) {SSO (Daily) 107.24};
\draw[ema10, line width=1.6pt, dash pattern=on 2pt off 1.6pt] (37,-475.5) -- (46,-475.5);
\node[anchor=west, inner sep=0pt, font=\dv\fontsize{9.2}{9}\selectfont, text=txgreen] at (47,-475.5) {EMA(10) 107.57};
\draw[ema20, line width=1.2pt] (37,-486.5) -- (46,-486.5);
\node[anchor=west, inner sep=0pt, font=\dv\fontsize{9.2}{9}\selectfont, text=ema20] at (47,-486.5) {EMA(20) 109.54};
\draw[ema50, line width=1.2pt] (37,-497.5) -- (46,-497.5);
\node[anchor=west, inner sep=0pt, font=\dv\fontsize{9.2}{9}\selectfont, text=txred] at (47,-497.5) {EMA(50) 113.78};
\draw[ma200, line width=1.6pt] (37,-508.5) -- (46,-508.5);
\node[anchor=west, inner sep=0pt, font=\dv\fontsize{9.2}{9}\selectfont, text=txmag] at (47,-508.5) {MA(200) 114.67};
\fill[volgryd] (38,-523) rectangle (40,-516) (41,-523) rectangle (43,-518) (44,-523) rectangle (46,-515);
\node[anchor=west, inner sep=0pt, font=\dv\fontsize{9.2}{9}\selectfont, text=txgrey] at (47,-519.5) {Volume 1,609,583};

% ---------- MACD panel
\begin{axis}[panel, datelabels, at={(34pt,-992pt)}, anchor=north west, height=184pt,
  ymin=-5.06, ymax=2.38,
  ytick={-4,-3,-2,-1,0,1,2}, yticklabels={-4,-3,-2,-1,0,1,2},
  minor ytick={-4.5,-3.5,-2.5,-1.5,-0.5,0.5,1.5}, yminorgrids,
  minor grid style={draw=gridc, draw opacity=0.2, line width=0.5pt},
  minor tick length=2pt,
  yticklabel style={xshift=13pt},
]
\addplot[ybar, bar width=4.2pt, bar shift=0pt, fill=histf, draw=histd, line width=0.5pt] table[x=i, y=h]{\histdata};
\addplot[red, line width=1pt] table[x=i, y=s]{\signaldata};
\addplot[black, line width=2pt] table[x=i, y=m]{\macddata};
\end{axis}
\draw[black, line width=1.6pt] (37,-1000) -- (45,-1000);
\node[anchor=west, inner sep=0pt, font=\dv\fontsize{10}{10}\selectfont] at (49,-1000) {MACD(12,26,9) -2.614\textcolor{red}{, -2.395}\textcolor{macdblue}{, -0.219}};

% ---------- annotation
\fill[black!35] (933.6,-793.7) rectangle (1102,-825.3);
\filldraw[fill=white, draw=annbord, line width=0.8pt] (931.6,-791.7) rectangle (1100,-823.3);
\filldraw[fill=white, draw=annbord, line width=0.8pt] (932,-802.5) -- (909,-808.3) -- (932,-812.5);
\fill[white] (931.2,-802) rectangle (933,-813);
\node[anchor=west, inner sep=0pt, font=\bfseries\fontsize{11}{11}\selectfont, text=blue] at (935,-800) {If I like what I see tomorrow,};
\node[anchor=west, inner sep=0pt, font=\bfseries\fontsize{11}{11}\selectfont, text=blue] at (935,-813.5) {I'll add to my SSO position.};
\pgfresetboundingbox
\useasboundingbox (0,0) rectangle (1340,-1192);
\end{tikzpicture}
\end{document}
